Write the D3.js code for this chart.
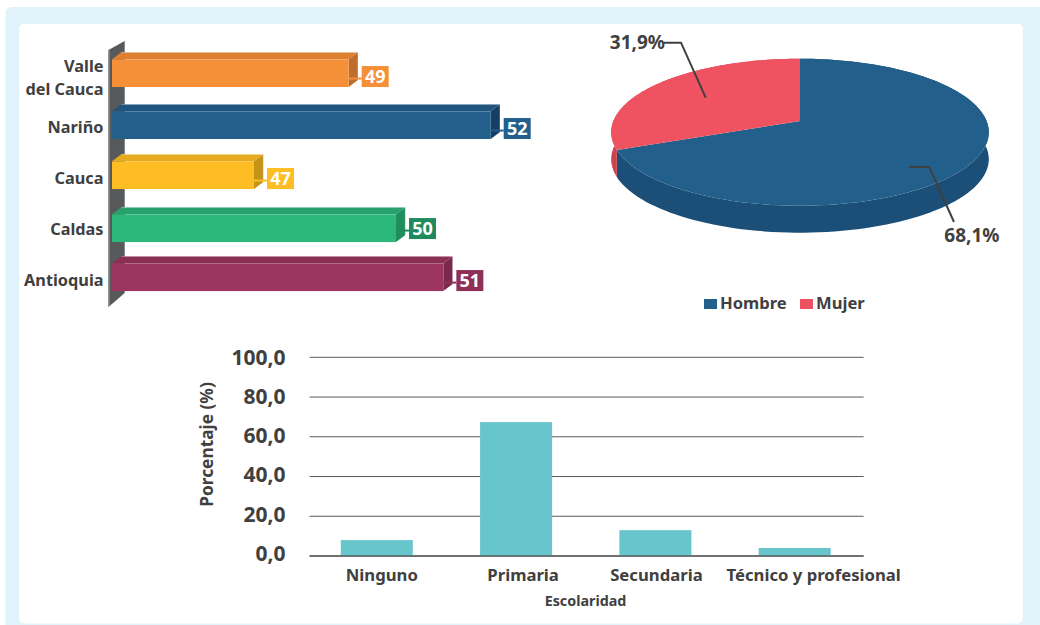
<!DOCTYPE html>
<html><head><meta charset="utf-8">
<script src="https://cdnjs.cloudflare.com/ajax/libs/d3/7.8.5/d3.min.js"></script>
<style>html,body{margin:0;padding:0;background:#fff;overflow:hidden}svg{display:block}text{font-family:"Noto Sans",sans-serif;font-weight:700;fill:#404040}</style>
</head><body><svg id="c" width="1040" height="625"></svg>
<script>
// ---- data ----
const regions = ["Valle del Cauca","Nariño","Cauca","Caldas","Antioquia"];
const regionLines = [["Valle","del Cauca"],["Nariño"],["Cauca"],["Caldas"],["Antioquia"]];
const regionValues = [49,52,47,50,51];
const sexLabels = ["Hombre","Mujer"];
const sexValues = [68.1,31.9];
const sexText = ["68,1%","31,9%"];
const schooling = ["Ninguno","Primaria","Secundaria","Técnico y profesional"];
const schoolingValues = [8,67.4,13,4];
const yTicks = [0,20,40,60,80,100];

// ---- styles ----
const barFront = ["#f39038","#235f8b","#ffbd24","#2db87b","#9c365f"];
const barTop   = ["#dd8033","#205580","#e5aa20","#28a06c","#8a3152"];
const barSide  = ["#bf6d2b","#173f63","#c49417","#1f8d5e","#7a284e"];
const tagFill  = ["#f39038","#235f8b","#ffbd24","#1e8a5e","#8f2f58"];
const rowNudge = [0,1,0,2,0];
const tagNudge = [0,0,0,-3,0];
const sexFront = ["#235f8b","#ef5261"];
const sexWall  = ["#1b4f78","#cc4350"];
const ink = "#404040";

const svg = d3.select("#c");
svg.append("rect").attr("x",5.5).attr("y",7).attr("width",1050).attr("height",640).attr("rx",6).attr("fill","#e0f2fa");
svg.append("rect").attr("x",19).attr("y",24).attr("width",1004).attr("height",599.5).attr("rx",5).attr("fill","#fff");

// ---- 3D horizontal bars ----
const x3 = d3.scaleLinear().domain([44,52]).range([112,490.7]);
const y3 = d3.scaleBand().domain(regions).range([47.7,302.7]).paddingInner(0.457).paddingOuter(0.228);
const yLab = d3.scaleBand().domain(regions).range([50,305]);
const dX = 9.3, dY = 7;
const pts = a => a.map(p=>p.join(",")).join(" ");

svg.append("polygon").attr("fill","#58595b")
  .attr("points",pts([[108.5,50],[124.7,41],[124.7,293],[108.5,307]]));
svg.append("polygon").attr("fill","#7d7e80")
  .attr("points",pts([[108.5,50],[110,49.2],[110,305.8],[108.5,307]]));

const rows = svg.append("g").selectAll("g").data(regions).join("g");
rows.each(function(name,i){
  const g = d3.select(this);
  const x0 = x3.domain()[0], xl = x3(x0), xr = x3(regionValues[i]);
  const yt = y3(name)+rowNudge[i], yb = yt+y3.bandwidth();
  g.append("polygon").attr("fill",barTop[i])
    .attr("points",pts([[xl,yt],[xl+dX,yt-dY],[xr+dX,yt-dY],[xr,yt]]));
  g.append("polygon").attr("fill",barSide[i])
    .attr("points",pts([[xr,yt],[xr+dX,yt-dY],[xr+dX,yb-dY],[xr,yb]]));
  g.append("rect").attr("x",xl).attr("y",yt).attr("width",xr-xl).attr("height",yb-yt).attr("fill",barFront[i]);
  g.append("polyline").attr("fill","none").attr("stroke","#fff").attr("stroke-opacity",0.35).attr("stroke-width",1)
    .attr("points",pts([[xl+dX,yt-dY],[xr+dX,yt-dY],[xr+dX,yb-dY]]));
  const tb = yb+tagNudge[i], tx = xr+13;
  g.append("line").attr("x1",xr).attr("x2",tx).attr("y1",tb-8.5).attr("y2",tb-8.5)
    .attr("stroke",tagFill[i]).attr("stroke-width",2);
  g.append("rect").attr("x",tx).attr("y",tb-21).attr("width",27).attr("height",21).attr("fill",tagFill[i]);
  g.append("text").attr("x",tx+13.5).attr("y",tb-10.5).attr("dy","0.36em").attr("text-anchor","middle")
    .style("fill","#fff").style("font-size","18px").text(regionValues[i]);
  const t = g.append("text").attr("text-anchor","end").style("font-size","16.3px");
  const cy = yLab(name)+yLab.bandwidth()/2;
  const n = regionLines[i].length;
  regionLines[i].forEach((ln,k)=>{
    t.append("tspan").attr("x",103.5).attr("y",cy+(k-(n-1)/2)*22.5+(n>1?2.5:0.5)).attr("dy","0.35em").text(ln);
  });
});

// ---- 3D pie ----
const pie = d3.pie().sort(null).value(d=>d)(sexValues);
const K = 0.1524, AX = 186.6, BY = 71.8, PX = 800, PY = 121, DEPTH = 27;
const proj = a => {
  const b = a + 0.06*Math.sin(a/2)**2;
  const u=Math.sin(b), v=Math.cos(b), w=1+K*v;
  return [PX+AX*u/w, PY-BY*v/w];
};
const arcPts = (s,e) => d3.range(0,121).map(k=>proj(s+(e-s)*k/120));
const gp = svg.append("g");
gp.selectAll("polygon.wall").data(pie).join("polygon").attr("class","wall")
  .attr("fill",(d,i)=>sexWall[i])
  .attr("points",d=>{ const a=arcPts(d.startAngle,d.endAngle);
    return pts(a.concat(a.slice().reverse().map(p=>[p[0],p[1]+DEPTH]))); });
gp.selectAll("polygon.face").data(pie).join("polygon").attr("class","face")
  .attr("fill",(d,i)=>sexFront[i])
  .attr("points",d=>pts([[PX,PY]].concat(arcPts(d.startAngle,d.endAngle))));

const lead = (p)=>svg.append("polyline").attr("fill","none").attr("stroke",ink).attr("stroke-width",2).attr("points",pts(p));
lead([[664,42.7],[681,42.7],[705.7,97.7]]);
lead([[909.3,167],[929.3,167],[954,222]]);
svg.append("text").attr("x",665).attr("y",42).attr("dy","0.35em").attr("text-anchor","end").style("font-size","19px").text(sexText[1]);
svg.append("text").attr("x",999.5).attr("y",235).attr("dy","0.35em").attr("text-anchor","end").style("font-size","19px").text(sexText[0]);

const legendX = [704,800];
sexLabels.forEach((s,i)=>{
  svg.append("rect").attr("x",legendX[i]).attr("y",299).attr("width",13).attr("height",10).attr("fill",sexFront[i]);
  svg.append("text").attr("x",legendX[i]+16).attr("y",303.5).attr("dy","0.35em").style("font-size","16.6px").text(s);
});

// ---- bottom column chart ----
const xB = d3.scaleBand().domain(schooling).range([309.6,861.9]).paddingInner(0.483).paddingOuter(0.224);
const yB = d3.scaleLinear().domain([0,100]).range([556,357.3]);
const yTickLabel = d3.scaleLinear().domain([0,100]).range([553,357]);
const labelShift = [5,7,1,19];
const grid = svg.append("g");
grid.selectAll("line").data(yTicks).join("line")
  .attr("x1",309.6).attr("x2",863.6).attr("y1",d=>yB(d)).attr("y2",d=>yB(d))
  .attr("stroke","#5a5a5a").attr("stroke-width",1);
svg.append("g").selectAll("rect").data(schooling).join("rect")
  .attr("x",d=>xB(d)).attr("width",xB.bandwidth())
  .attr("y",(d,i)=>yB(schoolingValues[i])).attr("height",(d,i)=>yB(0)-yB(schoolingValues[i]))
  .attr("fill","#67c5cc");
svg.append("line").attr("x1",309.6).attr("x2",863.6).attr("y1",yB(0)).attr("y2",yB(0)).attr("stroke","#555").attr("stroke-width",1.5).attr("stroke-opacity",0.9);
const axY = svg.append("g").attr("transform","translate(309.6,0)")
  .call(d3.axisLeft(yB).tickValues(yTicks).tickSize(0).tickPadding(24).tickFormat(d=>d3.format(".1f")(d).replace(".",",")));
axY.select(".domain").remove();
axY.selectAll("text").style("font-size","21px").attr("fill",null)
  .attr("y",d=>yTickLabel(d)-yB(d)).attr("dy","0.35em");
const axX = svg.append("g").attr("transform","translate(0,556)")
  .call(d3.axisBottom(xB).tickSize(0).tickPadding(0));
axX.select(".domain").remove();
axX.selectAll("text").attr("fill",null).style("font-size","16.7px")
  .attr("y",19).attr("dy","0.35em").attr("x",(d,i)=>labelShift[i]);
svg.append("text").attr("x",585.5).attr("y",601).attr("dy","0.35em").attr("text-anchor","middle").style("font-size","14.3px").text("Escolaridad");
svg.append("text").attr("transform","translate(207,444.5) rotate(-90)").attr("dy","0.35em").attr("text-anchor","middle").style("font-size","17.3px").text("Porcentaje (%)");
</script></body></html>
